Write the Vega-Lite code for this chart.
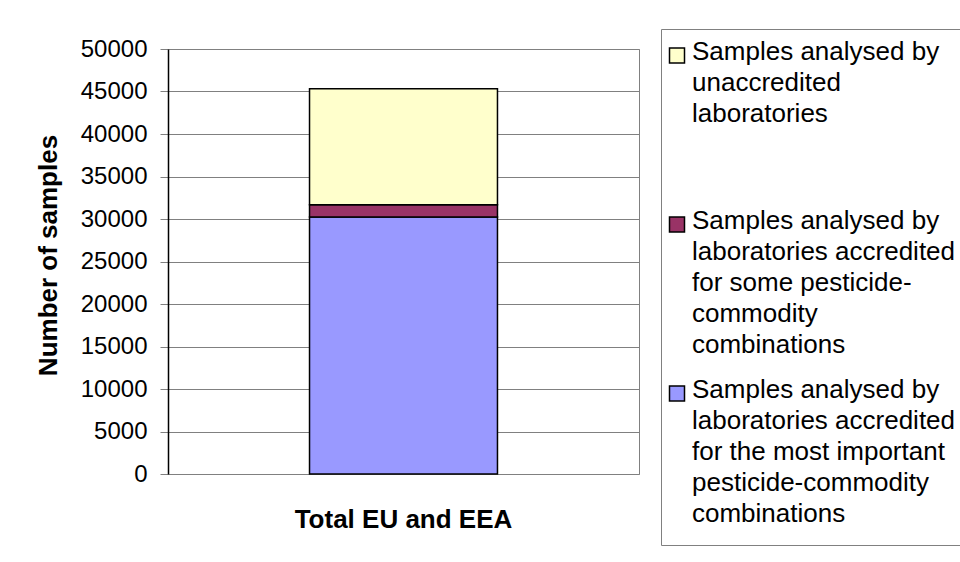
{
  "$schema": "https://vega.github.io/schema/vega-lite/v6.json",
  "width": 471,
  "height": 425,
  "autosize": "none",
  "padding": {"left": 168, "top": 49, "right": 321, "bottom": 88},
  "background": "white",
  "data": {
    "values": [
      {"region": "Total EU and EEA", "category": "Samples analysed by laboratories accredited for the most important pesticide-commodity combinations", "samples": 30250, "rank": 1},
      {"region": "Total EU and EEA", "category": "Samples analysed by laboratories accredited for some pesticide-commodity combinations", "samples": 1440, "rank": 2},
      {"region": "Total EU and EEA", "category": "Samples analysed by unaccredited laboratories", "samples": 13620, "rank": 3}
    ]
  },
  "mark": {"type": "bar", "stroke": "black", "strokeWidth": 1.5},
  "encoding": {
    "x": {
      "field": "region",
      "type": "nominal",
      "scale": {"paddingInner": 0, "paddingOuter": 0.753},
      "axis": {
        "title": null,
        "labelAngle": 0,
        "ticks": false,
        "domain": false,
        "labelFont": "Liberation Sans",
        "labelFontSize": 26,
        "labelFontWeight": "bold",
        "labelColor": "black",
        "labelLimit": 0,
        "labelPadding": 32
      }
    },
    "y": {
      "field": "samples",
      "type": "quantitative",
      "aggregate": "sum",
      "stack": "zero",
      "scale": {"domain": [0, 50000], "nice": false},
      "axis": {
        "title": "Number of samples",
        "values": [0, 5000, 10000, 15000, 20000, 25000, 30000, 35000, 40000, 45000, 50000],
        "format": "d",
        "titleFont": "Liberation Sans",
        "titleFontSize": 26,
        "titleFontWeight": "bold",
        "titleColor": "black",
        "titlePadding": 19,
        "titleY": 206,
        "labelFont": "Liberation Sans",
        "labelFontSize": 24,
        "labelColor": "black",
        "labelPadding": 13,
        "tickSize": 8,
        "tickColor": "#808080",
        "tickWidth": 1,
        "domainColor": "black",
        "domainWidth": 1.5,
        "gridColor": "#808080",
        "gridWidth": 1,
        "gridOpacity": 1
      }
    },
    "order": {"field": "rank", "type": "quantitative"},
    "color": {
      "field": "category",
      "type": "nominal",
      "scale": {
        "domain": [
          "Samples analysed by unaccredited laboratories",
          "Samples analysed by laboratories accredited for some pesticide-commodity combinations",
          "Samples analysed by laboratories accredited for the most important pesticide-commodity combinations"
        ],
        "range": ["#FFFFCC", "#993366", "#9999FF"]
      },
      "legend": {
        "title": null,
        "orient": "none",
        "legendX": 493,
        "legendY": -20,
        "direction": "vertical",
        "fillColor": "white",
        "strokeColor": "#808080",
        "padding": 18,
        "symbolType": "M-3,-1.6H-1V0.4H-3Z",
        "symbolSize": 225,
        "symbolStrokeColor": "black",
        "symbolStrokeWidth": 1.5,
        "symbolOpacity": 1,
        "labelFont": "Liberation Sans",
        "labelFontSize": 26,
        "labelColor": "black",
        "labelLimit": 0,
        "labelOffset": -13,
        "labelBaseline": "alphabetic",
        "rowPadding": 19,
        "gridAlign": "all",
        "labelExpr": "indexof(datum.label, 'unaccredited') >= 0 ? ['Samples analysed by', 'unaccredited', 'laboratories'] : indexof(datum.label, 'some') >= 0 ? ['Samples analysed by', 'laboratories accredited', 'for some pesticide-', 'commodity', 'combinations'] : ['Samples analysed by', 'laboratories accredited', 'for the most important', 'pesticide-commodity', 'combinations']"
      }
    }
  },
  "config": {
    "view": {"stroke": "#808080", "strokeWidth": 1},
    "style": {"guide-label": {"lineHeight": 31}}
  }
}
